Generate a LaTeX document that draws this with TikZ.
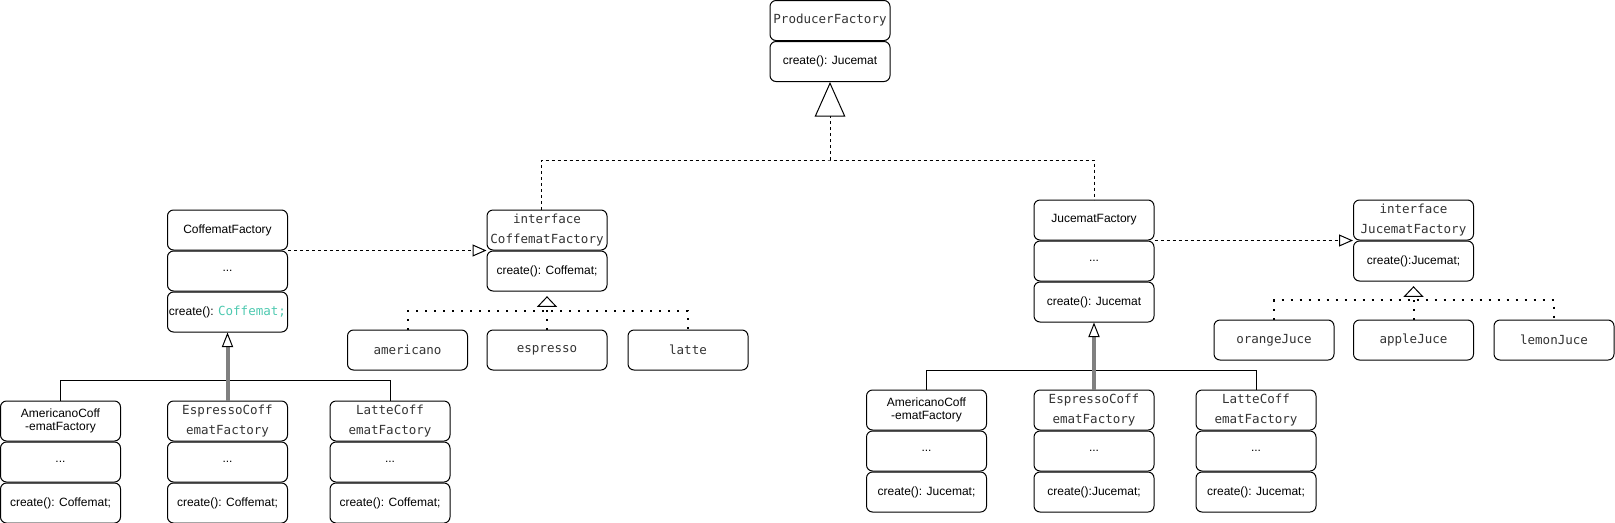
\documentclass[tikz,border=0pt]{standalone}
\usepackage{fontspec}
\setmainfont{Liberation Sans}
\newfontfamily\codefont{DejaVu Sans Mono}
\usetikzlibrary{arrows.meta,positioning}
\definecolor{typegreen}{HTML}{4EC9B0}
\definecolor{linkgray}{HTML}{808080}
\definecolor{codetext}{HTML}{333333}
\newcommand{\sansrow}{\fontsize{9}{10.3}\selectfont}
\newcommand{\coderow}{\codefont\fontsize{9.4}{15}\selectfont}

\begin{document}
\begin{tikzpicture}[x=0.75pt, y=-0.75pt, node distance=0pt, line width=0.75pt,
  umlrow/.style={draw, rounded corners=4.5pt, minimum width=90pt, minimum height=30pt,
                 inner sep=0pt, align=center, font=\sansrow},
  umlcode/.style={umlrow, font=\coderow, text=codetext},
  dashedlink/.style={dash pattern=on 2.25pt off 2.25pt},
  realize/.style={line width=1.5pt, dash pattern=on 1.5pt off 5.25pt},
  toparent/.style={-{Triangle[open, length=26pt, width=23pt, line width=0.75pt]}},
  implements/.style={-{Triangle[open, length=10.5pt, width=9pt, line width=0.75pt]}},
  realtip/.style={shorten >=3.5pt, -{Triangle[open, length=8pt, width=15pt, line width=0.75pt]}},
  extends/.style={draw=linkgray, line width=3pt,
                  -{Triangle[open, length=11pt, width=8.5pt, line width=0.75pt, color=black]}}]
  \useasboundingbox (0,0) rectangle (1615,522);

  % top
  \node[umlcode] (pf1) at (830,20.5) {ProducerFactory};
  \node[umlrow, below=of pf1] (pf2) {create(): Jucemat};

  % coffee side
  \node[umlrow] (cf1) at (227.5,230) {CoffematFactory};
  \node[umlrow, below=of cf1] (cf2) {...};
  \node[umlrow, below=of cf2] (cf3) {create(): {\coderow\color{typegreen}Coffemat;}};
  \node[umlcode] (ic1) at (547,230) {interface\\CoffematFactory};
  \node[umlrow, below=of ic1] (ic2) {create(): Coffemat;};
  \node[umlcode] (am) at (407.5,350) {americano};
  \node[umlcode] (es) at (547,350) {espresso};
  \node[umlcode] (la) at (688,350) {latte};

  \node[umlrow] (acf1) at (60.5,421) {AmericanoCoff\\-ematFactory};
  \node[umlrow, below=of acf1] (acf2) {...};
  \node[umlrow, below=of acf2] (acf3) {create(): Coffemat;};
  \node[umlcode] (ecf1) at (227.5,421) {EspressoCoff\\ematFactory};
  \node[umlrow, below=of ecf1] (ecf2) {...};
  \node[umlrow, below=of ecf2] (ecf3) {create(): Coffemat;};
  \node[umlcode] (lcf1) at (390,421) {LatteCoff\\ematFactory};
  \node[umlrow, below=of lcf1] (lcf2) {...};
  \node[umlrow, below=of lcf2] (lcf3) {create(): Coffemat;};

  % juice side
  \node[umlrow] (jf1) at (1094,220) {JucematFactory};
  \node[umlrow, below=of jf1] (jf2) {...};
  \node[umlrow, below=of jf2] (jf3) {create(): Jucemat};
  \node[umlcode] (ij1) at (1413.5,220) {interface\\JucematFactory};
  \node[umlrow, below=of ij1] (ij2) {create():Jucemat;};
  \node[umlcode] (oj) at (1274,340) {orangeJuce};
  \node[umlcode] (aj) at (1413.5,340) {appleJuce};
  \node[umlcode] (lj) at (1554,340) {lemonJuce};

  \node[umlrow] (ajf1) at (926.5,410) {AmericanoCoff\\-ematFactory};
  \node[umlrow, below=of ajf1] (ajf2) {...};
  \node[umlrow, below=of ajf2] (ajf3) {create(): Jucemat;};
  \node[umlcode] (ejf1) at (1094,410) {EspressoCoff\\ematFactory};
  \node[umlrow, below=of ejf1] (ejf2) {...};
  \node[umlrow, below=of ejf2] (ejf3) {create():Jucemat;};
  \node[umlcode] (ljf1) at (1256,410) {LatteCoff\\ematFactory};
  \node[umlrow, below=of ljf1] (ljf2) {...};
  \node[umlrow, below=of ljf2] (ljf3) {create(): Jucemat;};

  % dashed links to the producer
  \coordinate (jn) at (830,160);
  \draw[dashedlink] ([xshift=-4.5pt]ic1.north) |- (jn) -| (jf1.north);
  \draw[dashedlink, toparent] (jn) -- (pf2.south);
  \draw[dashedlink, implements] (cf1.south east) -- (ic1.south west);
  \draw[dashedlink, implements] (jf1.south east) -- (ij1.south west);

  % dotted rails
  \coordinate (lrail) at (0,311);
  \draw[realize] (am.north) |- (lrail -| la.north) -- (la.north);
  \draw[realize, realtip] (es.north) -- (ic2.south);
  \coordinate (rrail) at (0,300);
  \draw[realize] (oj.north) |- (rrail -| lj.north) -- (lj.north);
  \draw[realize, realtip] (aj.north) -- (ij2.south);

  % subclasses
  \coordinate (lbus) at (0,380);
  \draw (acf1.north) |- (lbus -| lcf1.north) -- (lcf1.north);
  \draw[extends] (ecf1.north) -- (cf3.south);
  \coordinate (rbus) at (0,370);
  \draw (ajf1.north) |- (rbus -| ljf1.north) -- (ljf1.north);
  \draw[extends] (ejf1.north) -- (jf3.south);
\end{tikzpicture}
\end{document}
